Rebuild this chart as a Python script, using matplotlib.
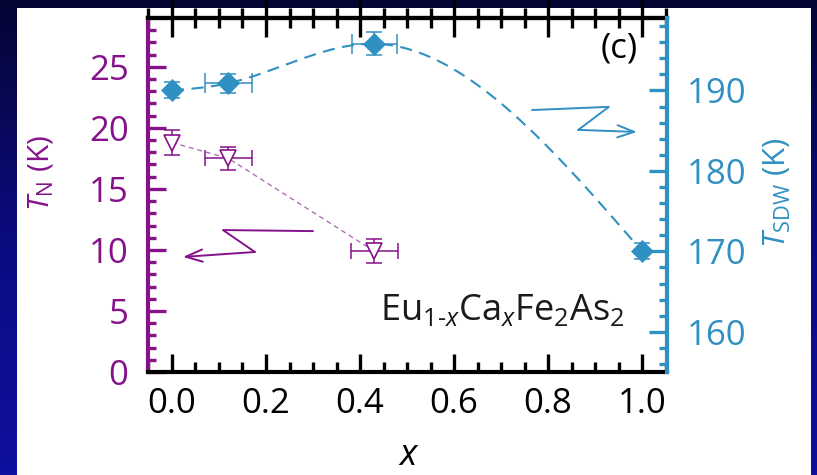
import numpy as np
import matplotlib
matplotlib.use("Agg")
import matplotlib.pyplot as plt
from matplotlib.patches import Rectangle
from matplotlib.colors import LinearSegmentedColormap
from matplotlib.ticker import FixedLocator

plt.rcParams["font.family"] = ["Open Sans", "DejaVu Sans"]
plt.rcParams["mathtext.fontset"] = "custom"
plt.rcParams["mathtext.rm"] = "Open Sans"
plt.rcParams["mathtext.it"] = "Open Sans:italic"
plt.rcParams["mathtext.bf"] = "Open Sans:bold"

# Ca content x and spin-density-wave transition (right axis)
x_sdw = [0.0, 0.12, 0.43, 1.0]
t_sdw = [190.0, 190.9, 195.8, 170.0]
t_sdw_xerr = [0.0, 0.05, 0.048, 0.0]
t_sdw_yerr = [1.0, 1.2, 1.4, 1.0]

# Eu2+ antiferromagnetic ordering temperature (left axis)
x_n = [0.0, 0.12, 0.43]
t_n = [18.8, 17.5, 9.9]
t_n_xerr = [0.0, 0.05, 0.05]
t_n_yerr = [1.0, 0.95, 1.0]

x_ticks = [0.0, 0.2, 0.4, 0.6, 0.8, 1.0]
x_minor = [0.05 * i for i in range(-1, 22)]
tn_ticks = [0, 5, 10, 15, 20, 25]
tn_minor = list(range(0, 29))
tsdw_ticks = [160, 170, 180, 190]
tsdw_minor = list(range(156, 199, 2))

PURPLE = "#85128a"
PURPLE_LINE = "#a565ad"
BLUE = "#3190c2"


def natural_cubic(xk, yk, xs):
    """Natural cubic spline through the knots (xk, yk), evaluated at xs."""
    xk = np.asarray(xk, float)
    yk = np.asarray(yk, float)
    n = len(xk)
    h = np.diff(xk)
    A = np.zeros((n, n))
    r = np.zeros(n)
    A[0, 0] = A[-1, -1] = 1.0
    for i in range(1, n - 1):
        A[i, i - 1] = h[i - 1]
        A[i, i] = 2 * (h[i - 1] + h[i])
        A[i, i + 1] = h[i]
        r[i] = 6 * ((yk[i + 1] - yk[i]) / h[i] - (yk[i] - yk[i - 1]) / h[i - 1])
    M = np.linalg.solve(A, r)
    idx = np.clip(np.searchsorted(xk, xs) - 1, 0, n - 2)
    x0, x1 = xk[idx], xk[idx + 1]
    hh = x1 - x0
    return (M[idx] * (x1 - xs) ** 3 / (6 * hh)
            + M[idx + 1] * (xs - x0) ** 3 / (6 * hh)
            + (yk[idx] / hh - M[idx] * hh / 6) * (x1 - xs)
            + (yk[idx + 1] / hh - M[idx + 1] * hh / 6) * (xs - x0))


W, H = 817, 475
fig = plt.figure(figsize=(W / 100, H / 100), dpi=100)

# slide background: dark-blue vertical gradient with a white panel
bg = fig.add_axes([0, 0, 1, 1], zorder=-10)
bg.set_axis_off()
grad = np.linspace(0, 1, 256).reshape(-1, 1)
cmap = LinearSegmentedColormap.from_list("slide", ["#050534", "#0b0b80", "#1010a0"])
bg.imshow(grad, extent=[0, 1, 0, 1], aspect="auto", cmap=cmap, origin="upper")
bg.set_xlim(0, 1)
bg.set_ylim(0, 1)
bg.add_patch(Rectangle((17 / W, 0), (811 - 17) / W, (H - 8) / H,
                       facecolor="white", edgecolor="none"))

ax = fig.add_axes([148 / W, 103 / H, 519 / W, 354 / H])
ax.set_facecolor("none")
ax2 = ax.twinx()

ax.set_xlim(-0.051, 1.053)
ax.set_ylim(0, 29)
ax2.set_ylim(155, 199)

# --- T_N (left axis) ---
ax.plot(x_n, t_n, linestyle=(0, (4, 3)), color=PURPLE_LINE, lw=0.9, zorder=2)
xn = np.array(x_n)
tn = np.array(t_n)
xe = np.array(t_n_xerr)
ax.errorbar(xn, tn, yerr=t_n_yerr, fmt="none", ecolor=PURPLE,
            elinewidth=1.1, capsize=6, capthick=1.1, zorder=3)
m = xe > 0
ax.errorbar(xn[m], tn[m], xerr=xe[m], fmt="none", ecolor=PURPLE,
            elinewidth=1.1, capsize=6, capthick=1.1, zorder=3)
ax.plot(xn, tn, linestyle="none", marker="v", ms=11.5, mfc="white",
        mec=PURPLE, mew=1.2, zorder=4)

# --- T_SDW (right axis) ---
xs = np.linspace(min(x_sdw), max(x_sdw), 400)
ax2.plot(xs, natural_cubic(x_sdw, t_sdw, xs), linestyle=(0, (5.8, 3.6)),
         color=BLUE, lw=1.5, zorder=2)
xsd = np.array(x_sdw)
tsd = np.array(t_sdw)
xe2 = np.array(t_sdw_xerr)
ax2.errorbar(xsd, tsd, yerr=t_sdw_yerr, fmt="none", ecolor=BLUE,
             elinewidth=1.1, capsize=6, capthick=1.1, zorder=3)
m2 = xe2 > 0
ax2.errorbar(xsd[m2], tsd[m2], xerr=xe2[m2], fmt="none", ecolor=BLUE,
             elinewidth=1.1, capsize=7, capthick=1.1, zorder=3)
ax2.plot(xsd, tsd, linestyle="none", marker="D", ms=11.5, mfc=BLUE,
         mec=BLUE, mew=0.5, zorder=4)

# --- spines and ticks ---
SPW = 3.0
for s in ["left", "bottom", "top"]:
    ax.spines[s].set_linewidth(SPW)
ax.spines["left"].set_color(PURPLE)
ax.spines["bottom"].set_color("black")
ax.spines["top"].set_color("black")
ax.spines["right"].set_visible(False)
for s in ["left", "bottom", "top"]:
    ax2.spines[s].set_visible(False)
ax2.spines["right"].set_color(BLUE)
ax2.spines["right"].set_linewidth(SPW)

ax.xaxis.set_major_locator(FixedLocator(x_ticks))
ax.xaxis.set_minor_locator(FixedLocator(x_minor))
ax.set_xticklabels([f"{v:.1f}" for v in x_ticks])
ax.yaxis.set_major_locator(FixedLocator(tn_ticks))
ax.yaxis.set_minor_locator(FixedLocator(tn_minor))
ax2.yaxis.set_major_locator(FixedLocator(tsdw_ticks))
ax2.yaxis.set_minor_locator(FixedLocator(tsdw_minor))

TICK_FS = 25
ax.tick_params(axis="x", which="both", direction="in", top=False, bottom=True,
               color="black", width=2.4, labelsize=TICK_FS, labelcolor="black", pad=11)
ax.tick_params(axis="x", which="major", length=13)
ax.tick_params(axis="x", which="minor", length=7)
ax.tick_params(axis="y", which="both", direction="in", left=True, right=False,
               color=PURPLE, width=2.4, labelsize=TICK_FS, labelcolor=PURPLE, pad=14)
ax.tick_params(axis="y", which="major", length=13)
ax.tick_params(axis="y", which="minor", length=6)
ax2.tick_params(axis="y", which="both", direction="in", right=True, left=False,
                color=BLUE, width=2.4, labelsize=TICK_FS, labelcolor=BLUE, pad=14)
ax2.tick_params(axis="y", which="major", length=13)
ax2.tick_params(axis="y", which="minor", length=6)

# ticks on the top edge cross the axis line
top = ax.secondary_xaxis("top")
top.spines["top"].set_linewidth(SPW)
top.xaxis.set_major_locator(FixedLocator(x_ticks))
top.xaxis.set_minor_locator(FixedLocator(x_minor))
top.tick_params(axis="x", which="both", direction="inout", width=2.4,
                color="black", labeltop=False)
top.tick_params(axis="x", which="major", length=27)
top.tick_params(axis="x", which="minor", length=14)

# --- labels ---
ax.set_xlabel(r"$x$", fontsize=26, va="baseline")
ax.xaxis.set_label_coords(0.503, -0.262)
ax.set_ylabel(r"$T_{\mathrm{N}}$ (K)", fontsize=21.5, color=PURPLE, va="center")
ax.yaxis.set_label_coords(-0.206, 0.562)
ax2.set_ylabel(r"$T_{\mathrm{SDW}}$ (K)", fontsize=22.5, color=BLUE,
               va="center", rotation=90)
ax2.yaxis.set_label_coords(1.212, 0.506)

ax.text(0.9075, 0.913, "(c)", transform=ax.transAxes, fontsize=25,
        ha="center", va="center", color="black")
ax.text(0.447, 0.147,
        r"Eu$_{\mathit{1}\text{-}\mathit{x}}$Ca$_{\mathit{x}}$Fe$_{\mathrm{2}}$As$_{\mathrm{2}}$",
        transform=ax.transAxes, fontsize=26, ha="left", va="baseline", color="#1a1a1a")

# zig-zag arrows pointing to each axis
def zigzag(a, pts, color):
    xs_, ys_ = zip(*pts[:-1])
    a.plot(xs_, ys_, color=color, lw=1.4, transform=a.transAxes,
           solid_capstyle="round", solid_joinstyle="round", zorder=5)
    a.annotate("", xy=pts[-1], xytext=pts[-2], xycoords="axes fraction",
               textcoords="axes fraction",
               arrowprops=dict(arrowstyle="->,head_length=0.6,head_width=0.22",
                               color=color, lw=1.4, shrinkA=0, shrinkB=0,
                               mutation_scale=20), zorder=5)

zigzag(ax, [(0.318, 0.398), (0.1445, 0.401), (0.206, 0.339), (0.0674, 0.325)], PURPLE)
zigzag(ax2, [(0.740, 0.740), (0.888, 0.749), (0.829, 0.684), (0.942, 0.678)], BLUE)

fig.savefig("out.png", dpi=100)
